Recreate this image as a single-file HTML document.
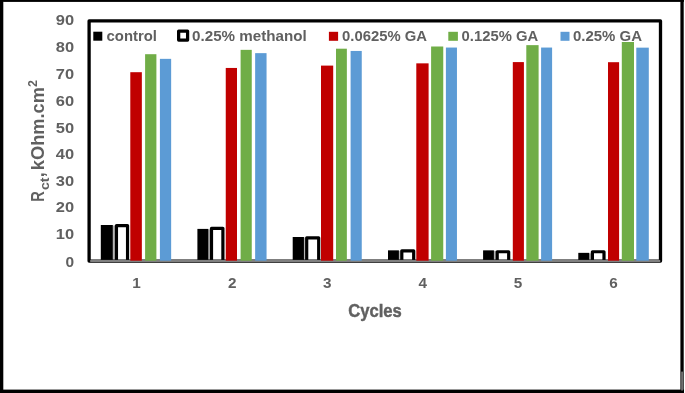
<!DOCTYPE html><html><head><meta charset="utf-8"><style>html,body{margin:0;padding:0;background:#fff}svg{display:block}text{font-family:"Liberation Sans",sans-serif;font-weight:bold;fill:#616161}</style></head><body>
<svg width="685" height="393" viewBox="0 0 685 393">
<defs><filter id="b" x="-10" y="-10" width="705" height="413" filterUnits="userSpaceOnUse"><feGaussianBlur stdDeviation="0.4"/></filter><filter id="s" x="-10" y="-10" width="705" height="413" filterUnits="userSpaceOnUse"><feGaussianBlur stdDeviation="0.3"/></filter></defs><g filter="url(#s)">
<rect x="-5" y="-5" width="695" height="403" fill="#fff"/>
<rect x="0" y="0" width="3.3" height="393" fill="#000"/>
<rect x="0" y="0" width="684" height="1.9" fill="#000"/>
<rect x="680.4" y="0" width="3.3" height="393" fill="#000"/>
<rect x="0" y="389.6" width="684" height="3.4" fill="#000"/>
<rect x="681.4" y="371.6" width="1.3" height="18.9" fill="#a0a0a0"/>
<rect x="93.3" y="31.7" width="9.0" height="9.0" fill="#000"/>
<text filter="url(#b)" x="106.6" y="41.0" font-size="15.10" text-anchor="start" textLength="50.4" lengthAdjust="spacingAndGlyphs">control</text>
<rect x="178.65" y="31.05" width="8.95" height="9.05" fill="#fff" stroke="#000" stroke-width="3.25" stroke-linejoin="round"/>
<text filter="url(#b)" x="192.1" y="41.0" font-size="15.10" text-anchor="start" textLength="114.6" lengthAdjust="spacingAndGlyphs">0.25% methanol</text>
<rect x="328.9" y="31.8" width="9.2" height="9" fill="#C00000"/>
<text filter="url(#b)" x="342.0" y="41.0" font-size="15.10" text-anchor="start" textLength="85.0" lengthAdjust="spacingAndGlyphs">0.0625% GA</text>
<rect x="448.3" y="31.8" width="9.6" height="9" fill="#70AD47"/>
<text filter="url(#b)" x="461.6" y="41.0" font-size="15.10" text-anchor="start" textLength="76.6" lengthAdjust="spacingAndGlyphs">0.125% GA</text>
<rect x="560.5" y="31.8" width="9.0" height="9" fill="#5B9BD5"/>
<text filter="url(#b)" x="573.0" y="41.0" font-size="15.10" text-anchor="start" textLength="69.0" lengthAdjust="spacingAndGlyphs">0.25% GA</text>
<rect x="112.50" y="225.50" width="2.65" height="35.10" fill="#b4b4b4"/>
<rect x="100.80" y="225.00" width="12.00" height="35.60" fill="#000"/>
<path d="M116.45 260.6V225.60H127.55V260.6" fill="#fff" stroke="#000" stroke-linejoin="round" stroke-width="3.2"/>
<rect x="208.00" y="229.40" width="2.20" height="31.20" fill="#b4b4b4"/>
<rect x="197.40" y="228.90" width="10.90" height="31.70" fill="#000"/>
<path d="M211.50 260.6V228.30H222.90V260.6" fill="#fff" stroke="#000" stroke-linejoin="round" stroke-width="3.2"/>
<rect x="303.65" y="237.50" width="1.75" height="23.10" fill="#b4b4b4"/>
<rect x="292.70" y="237.00" width="11.25" height="23.60" fill="#000"/>
<path d="M306.70 260.6V237.80H318.70V260.6" fill="#fff" stroke="#000" stroke-linejoin="round" stroke-width="3.2"/>
<rect x="398.60" y="250.85" width="1.90" height="9.75" fill="#b4b4b4"/>
<rect x="388.00" y="250.35" width="10.90" height="10.25" fill="#000"/>
<path d="M401.80 260.6V250.80H413.70V260.6" fill="#fff" stroke="#000" stroke-linejoin="round" stroke-width="3.2"/>
<rect x="493.60" y="250.85" width="2.30" height="9.75" fill="#b4b4b4"/>
<rect x="483.10" y="250.35" width="10.80" height="10.25" fill="#000"/>
<path d="M497.20 260.6V251.75H508.70V260.6" fill="#fff" stroke="#000" stroke-linejoin="round" stroke-width="3.2"/>
<rect x="588.90" y="253.35" width="2.20" height="7.25" fill="#b4b4b4"/>
<rect x="578.30" y="252.85" width="10.90" height="7.75" fill="#000"/>
<path d="M592.40 260.6V251.75H604.00V260.6" fill="#fff" stroke="#000" stroke-linejoin="round" stroke-width="3.2"/>
<rect x="89.1" y="20.9" width="571.4" height="240.2" fill="none" stroke="#000" stroke-width="3.3" stroke-linejoin="round"/>
<rect x="90.2" y="259.9" width="570" height="2.1" fill="#808080"/>
<rect x="130.30" y="72.20" width="11.55" height="188.50" fill="#C00000"/>
<rect x="145.10" y="54.20" width="11.30" height="206.50" fill="#70AD47"/>
<rect x="159.90" y="58.85" width="11.25" height="201.85" fill="#5B9BD5"/>
<rect x="225.75" y="67.95" width="11.25" height="192.75" fill="#C00000"/>
<rect x="240.60" y="49.85" width="11.15" height="210.85" fill="#70AD47"/>
<rect x="255.15" y="53.15" width="11.40" height="207.55" fill="#5B9BD5"/>
<rect x="321.00" y="65.60" width="12.20" height="195.10" fill="#C00000"/>
<rect x="336.00" y="48.70" width="10.85" height="212.00" fill="#70AD47"/>
<rect x="350.60" y="50.95" width="11.15" height="209.75" fill="#5B9BD5"/>
<rect x="416.30" y="63.35" width="12.30" height="197.35" fill="#C00000"/>
<rect x="431.10" y="46.50" width="12.15" height="214.20" fill="#70AD47"/>
<rect x="445.90" y="47.55" width="11.05" height="213.15" fill="#5B9BD5"/>
<rect x="512.80" y="62.10" width="11.10" height="198.60" fill="#C00000"/>
<rect x="526.30" y="45.15" width="12.30" height="215.55" fill="#70AD47"/>
<rect x="541.10" y="47.55" width="11.00" height="213.15" fill="#5B9BD5"/>
<rect x="608.00" y="62.20" width="11.10" height="198.50" fill="#C00000"/>
<rect x="621.80" y="42.00" width="12.20" height="218.70" fill="#70AD47"/>
<rect x="636.30" y="47.65" width="12.50" height="213.05" fill="#5B9BD5"/>
<text filter="url(#b)" x="65.5" y="266.5" font-size="14.70" text-anchor="start" textLength="8.6" lengthAdjust="spacingAndGlyphs">0</text>
<text filter="url(#b)" x="55.8" y="239.1" font-size="14.70" text-anchor="start" textLength="18.3" lengthAdjust="spacingAndGlyphs">10</text>
<text filter="url(#b)" x="55.8" y="212.4" font-size="14.70" text-anchor="start" textLength="18.3" lengthAdjust="spacingAndGlyphs">20</text>
<text filter="url(#b)" x="55.8" y="185.9" font-size="14.70" text-anchor="start" textLength="18.3" lengthAdjust="spacingAndGlyphs">30</text>
<text filter="url(#b)" x="55.8" y="158.9" font-size="14.70" text-anchor="start" textLength="18.3" lengthAdjust="spacingAndGlyphs">40</text>
<text filter="url(#b)" x="55.8" y="132.6" font-size="14.70" text-anchor="start" textLength="18.3" lengthAdjust="spacingAndGlyphs">50</text>
<text filter="url(#b)" x="55.8" y="105.6" font-size="14.70" text-anchor="start" textLength="18.3" lengthAdjust="spacingAndGlyphs">60</text>
<text filter="url(#b)" x="55.8" y="79.0" font-size="14.70" text-anchor="start" textLength="18.3" lengthAdjust="spacingAndGlyphs">70</text>
<text filter="url(#b)" x="55.8" y="52.2" font-size="14.70" text-anchor="start" textLength="18.3" lengthAdjust="spacingAndGlyphs">80</text>
<text filter="url(#b)" x="55.8" y="25.2" font-size="14.70" text-anchor="start" textLength="18.3" lengthAdjust="spacingAndGlyphs">90</text>
<text filter="url(#b)" x="132.3" y="287.8" font-size="14.70" text-anchor="start" textLength="8.5" lengthAdjust="spacingAndGlyphs">1</text>
<text filter="url(#b)" x="227.9" y="287.8" font-size="14.70" text-anchor="start" textLength="8.5" lengthAdjust="spacingAndGlyphs">2</text>
<text filter="url(#b)" x="322.9" y="287.8" font-size="14.70" text-anchor="start" textLength="8.5" lengthAdjust="spacingAndGlyphs">3</text>
<text filter="url(#b)" x="418.4" y="287.8" font-size="14.70" text-anchor="start" textLength="8.5" lengthAdjust="spacingAndGlyphs">4</text>
<text filter="url(#b)" x="513.7" y="287.8" font-size="14.70" text-anchor="start" textLength="8.5" lengthAdjust="spacingAndGlyphs">5</text>
<text filter="url(#b)" x="609.2" y="287.8" font-size="14.70" text-anchor="start" textLength="8.5" lengthAdjust="spacingAndGlyphs">6</text>
<text filter="url(#b)" x="348.2" y="317.4" font-size="18.80" text-anchor="start" textLength="53.6" lengthAdjust="spacingAndGlyphs" stroke="#616161" stroke-width="0.45">Cycles</text>
<g filter="url(#b)"><g transform="translate(43.9,201.2) rotate(-90)">
<text x="-0.6" y="0" font-size="18.1" textLength="10.6" lengthAdjust="spacingAndGlyphs">R</text>
<text x="11.2" y="5.2" font-size="12.4" textLength="12.6" lengthAdjust="spacingAndGlyphs">ct</text>
<text x="23.9" y="0.3" font-size="18.1">,</text>
<text x="31.0" y="0" font-size="18.1" textLength="83.2" lengthAdjust="spacingAndGlyphs">kOhm.cm</text>
<text x="114.2" y="-6.6" font-size="12.6" textLength="7.0" lengthAdjust="spacingAndGlyphs">2</text>
</g></g>
</g></svg></body></html>
